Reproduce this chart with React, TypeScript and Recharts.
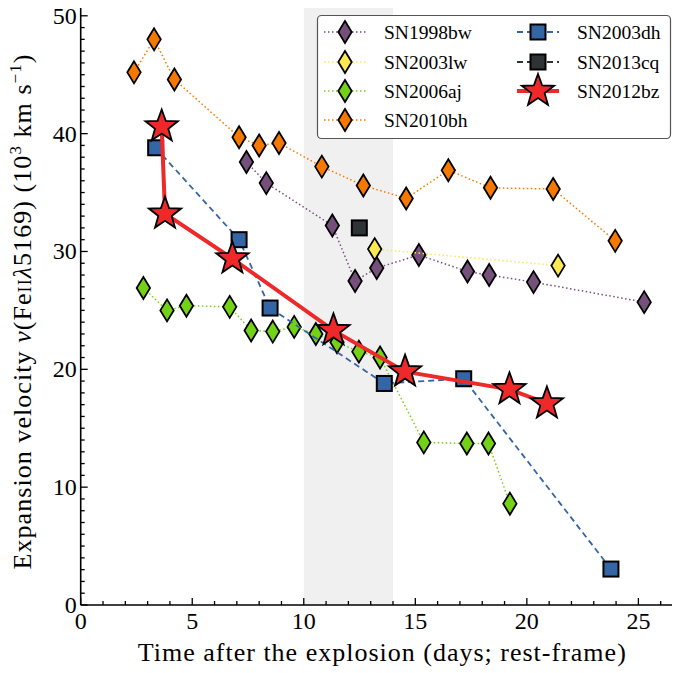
import React from "react";
import {
  ScatterChart,
  Scatter,
  XAxis,
  YAxis,
  ReferenceArea,
  Label,
} from "recharts";

// days after explosion / velocity (10^3 km/s)
const sn1998bwDays = [7.43, 8.32, 11.28, 12.3, 13.27, 15.16, 17.34, 18.31, 20.3, 25.26];
const sn1998bwVel = [37.6, 35.8, 32.2, 27.5, 28.6, 29.7, 28.3, 28.0, 27.4, 25.7];

const sn2003lwDays = [13.18, 21.4];
const sn2003lwVel = [30.2, 28.8];

const sn2006ajDays = [2.81, 3.87, 4.74, 6.68, 7.64, 8.61, 9.57, 10.54, 11.49, 12.47, 13.42, 15.38, 17.31, 18.28, 19.24];
const sn2006ajVel = [26.9, 25.0, 25.4, 25.3, 23.3, 23.2, 23.6, 23.0, 22.3, 21.5, 21.0, 13.8, 13.7, 13.7, 8.6];

const sn2010bhDays = [2.39, 3.29, 4.2, 7.1, 8.0, 8.89, 10.81, 12.67, 14.59, 16.48, 18.37, 21.18, 23.96];
const sn2010bhVel = [45.2, 48.0, 44.6, 39.7, 39.0, 39.2, 37.2, 35.6, 34.5, 36.9, 35.4, 35.3, 30.9];

const sn2003dhDays = [3.36, 7.1, 8.49, 13.61, 17.17, 23.77];
const sn2003dhVel = [38.8, 31.0, 25.2, 18.8, 19.2, 3.05];

const sn2013cqDays = [12.49];
const sn2013cqVel = [32.0];

const sn2012bzDays = [3.63, 3.78, 6.8, 11.33, 14.54, 19.22, 20.9];
const sn2012bzVel = [40.6, 33.2, 29.4, 23.3, 19.8, 18.3, 17.1];

const xTicks = Array.from({ length: 28 }, (_, i) => i);
const yTicks = Array.from({ length: 51 }, (_, i) => i);

const FONT = "'Liberation Serif', 'Times New Roman', serif";

const toPoints = (d: number[], v: number[]) => d.map((x, i) => ({ x, y: v[i] }));

type Marker = "diamond" | "square" | "star";

const drawMarker = (m: Marker, cx: number, cy: number, fill: string) => {
  if (m === "diamond") {
    return (
      <polygon
        points={`${cx},${cy - 11} ${cx + 6.7},${cy} ${cx},${cy + 11} ${cx - 6.7},${cy}`}
        fill={fill}
        stroke="#000"
        strokeWidth={1.8}
      />
    );
  }
  if (m === "square") {
    return (
      <rect x={cx - 7.5} y={cy - 7.5} width={15} height={15} fill={fill} stroke="#000" strokeWidth={2} />
    );
  }
  const pts: string[] = [];
  for (let k = 0; k < 10; k++) {
    const r = k % 2 === 0 ? 17 : 7;
    const a = -Math.PI / 2 + (k * Math.PI) / 5;
    pts.push(`${cx + r * Math.cos(a)},${cy + r * Math.sin(a)}`);
  }
  return <polygon points={pts.join(" ")} fill={fill} stroke="#000" strokeWidth={1.8} strokeLinejoin="miter" />;
};

const series = [
  { name: "SN1998bw", data: toPoints(sn1998bwDays, sn1998bwVel), color: "#75507b", dash: "1.5 2.5", width: 1.5, marker: "diamond" as Marker },
  { name: "SN2003lw", data: toPoints(sn2003lwDays, sn2003lwVel), color: "#fce94f", dash: "1.5 2.5", width: 1.5, marker: "diamond" as Marker },
  { name: "SN2006aj", data: toPoints(sn2006ajDays, sn2006ajVel), color: "#73d216", dash: "1.5 2.5", width: 1.5, marker: "diamond" as Marker },
  { name: "SN2010bh", data: toPoints(sn2010bhDays, sn2010bhVel), color: "#f57900", dash: "1.5 2.5", width: 1.5, marker: "diamond" as Marker },
  { name: "SN2003dh", data: toPoints(sn2003dhDays, sn2003dhVel), color: "#3465a4", dash: "6 4", width: 1.8, marker: "square" as Marker },
  { name: "SN2013cq", data: toPoints(sn2013cqDays, sn2013cqVel), color: "#2e3436", dash: "6 4", width: 1.8, marker: "square" as Marker },
  { name: "SN2012bz", data: toPoints(sn2012bzDays, sn2012bzVel), color: "#ef2929", dash: undefined, width: 4, marker: "star" as Marker },
];

const XTick = (props: any) => {
  const { x, y, payload, top } = props;
  const v = payload.value;
  const major = v % 5 === 0;
  const len = major ? 7 : 4;
  return (
    <g>
      <line x1={x} x2={x} y1={y} y2={top ? y + len : y - len} stroke="#000" strokeWidth={1.3} />
      {!top && major && (
        <text x={x} y={y + 24} textAnchor="middle" style={{ fontFamily: FONT }} fontSize={24} fill="#000">
          {v}
        </text>
      )}
    </g>
  );
};

const YTick = (props: any) => {
  const { x, y, payload, right } = props;
  const v = payload.value;
  const major = v % 10 === 0;
  const len = major ? 7 : 4;
  return (
    <g>
      <line x1={x} x2={right ? x - len : x + len} y1={y} y2={y} stroke="#000" strokeWidth={1.3} />
      {!right && major && (
        <text x={x - 4} y={y + 8} textAnchor="end" style={{ fontFamily: FONT }} fontSize={24} fill="#000">
          {v}
        </text>
      )}
    </g>
  );
};

const LegendBox = () => {
  const col1 = series.slice(0, 4);
  const col2 = series.slice(4);
  const rowY = [32, 62, 91, 120];
  const item = (s: (typeof series)[number], lx: number, y: number) => (
    <g key={s.name}>
      <line x1={lx} x2={lx + 42} y1={y} y2={y} stroke={s.color} strokeWidth={s.width} strokeDasharray={s.dash} />
      {drawMarker(s.marker, lx + 21, y, s.color)}
      <text x={lx + 60} y={y + 6.5} style={{ fontFamily: FONT }} fontSize={19.5} fill="#000">
        {s.name}
      </text>
    </g>
  );
  return (
    <svg width={680} height={673} style={{ position: "absolute", left: 0, top: 0, pointerEvents: "none" }}>
      <rect x={317.5} y={15.5} width={353} height={123} rx={4} fill="#fff" stroke="#555" strokeWidth={1.2} />
      {col1.map((s, i) => item(s, 324, rowY[i]))}
      {col2.map((s, i) => item(s, 517, rowY[i]))}
    </svg>
  );
};

export default function App() {
  return (
    <div
      style={{
        position: "relative",
        width: 680,
        height: 673,
        margin: "-8px 0 0 -8px",
        overflow: "hidden",
        background: "#fff",
      }}
    >
      <ScatterChart width={684} height={673} margin={{ top: 3, right: 0, bottom: 67, left: 79.7 }}>
        <XAxis
          type="number"
          dataKey="x"
          domain={[0, 27]}
          ticks={xTicks}
          interval={0}
          height={1}
          tickLine={false}
          tickSize={0}
          tickMargin={0}
          axisLine={{ stroke: "#000", strokeWidth: 1.6 }}
          tick={(p: any) => <XTick {...p} />}
          allowDataOverflow
        >
          <Label
            content={() => (
              <text x={381.8} y={661} textAnchor="middle" style={{ fontFamily: FONT }} fontSize={26} textLength={488} lengthAdjust="spacing" fill="#000">
                Time after the explosion (days; rest-frame)
              </text>
            )}
          />
        </XAxis>
        <XAxis
          xAxisId="top"
          orientation="top"
          type="number"
          domain={[0, 27]}
          ticks={xTicks}
          interval={0}
          height={1}
          tickLine={false}
          tickSize={0}
          tickMargin={0}
          axisLine={{ stroke: "#000", strokeWidth: 1.6 }}
          tick={(p: any) => <XTick {...p} top />}
          allowDataOverflow
        />
        <YAxis
          type="number"
          dataKey="y"
          domain={[0, 51]}
          ticks={yTicks}
          interval={0}
          width={1}
          tickLine={false}
          tickSize={0}
          tickMargin={0}
          axisLine={{ stroke: "#000", strokeWidth: 1.6 }}
          tick={(p: any) => <YTick {...p} />}
          allowDataOverflow
        >
          <Label
            content={() => (
              <text
                transform="translate(31,312) rotate(-90)"
                textAnchor="middle"
                style={{ fontFamily: FONT }}
                fontSize={26}
                textLength={515}
                lengthAdjust="spacing"
                fill="#000"
              >
                Expansion velocity <tspan fontStyle="italic">v</tspan>(Fe<tspan fontSize={18}>II</tspan>
                <tspan fontStyle="italic">λ</tspan>5169) (10
                <tspan dy={-10} fontSize={17}>3</tspan>
                <tspan dy={10}> km s</tspan>
                <tspan dy={-10} fontSize={17}>−1</tspan>
                <tspan dy={10}>)</tspan>
              </text>
            )}
          />
        </YAxis>
        <YAxis
          yAxisId="right"
          orientation="right"
          type="number"
          domain={[0, 51]}
          ticks={yTicks}
          interval={0}
          width={1}
          tickLine={false}
          tickSize={0}
          tickMargin={0}
          axisLine={{ stroke: "#000", strokeWidth: 1.6 }}
          tick={(p: any) => <YTick {...p} right />}
          allowDataOverflow
        />
        <ReferenceArea x1={10} x2={14} y1={0} y2={51} fill="#f0f0f0" fillOpacity={1} stroke="none" />
        {series.map((s) => (
          <Scatter
            key={s.name}
            name={s.name}
            data={s.data}
            isAnimationActive={false}
            line={{ stroke: s.color, strokeWidth: s.width, strokeDasharray: s.dash }}
            lineType="joint"
            shape={(p: any) => drawMarker(s.marker, p.cx, p.cy, s.color)}
          />
        ))}
      </ScatterChart>
      <LegendBox />
    </div>
  );
}
